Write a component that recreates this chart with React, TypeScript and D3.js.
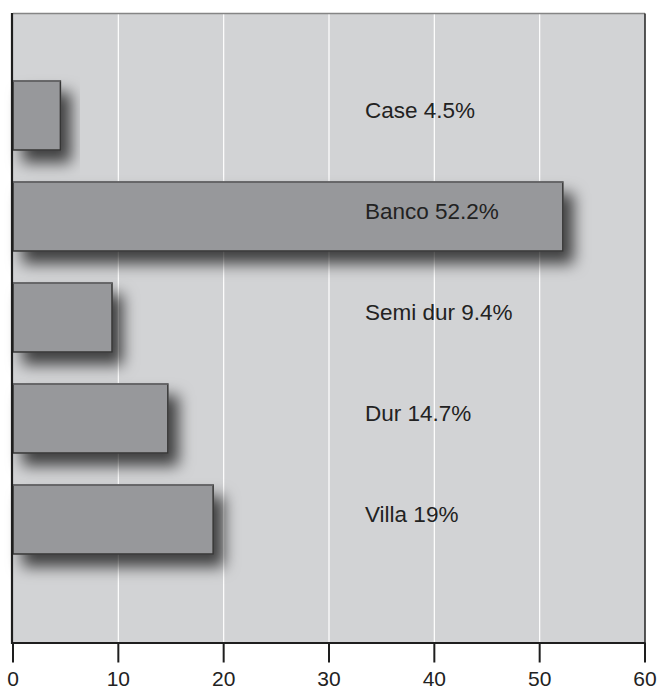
import React from "react";
import * as d3 from "d3";

const categories = ["Case", "Banco", "Semi dur", "Dur", "Villa"];
const values = [4.5, 52.2, 9.4, 14.7, 19];
const labels = ["Case 4.5%", "Banco 52.2%", "Semi dur 9.4%", "Dur 14.7%", "Villa 19%"];
const xTicks = [0, 10, 20, 30, 40, 50, 60];

const W = 658;
const H = 686;
const plot = { left: 13, right: 645, top: 13.5, bottom: 643 };

export default function App() {
  const x = d3.scaleLinear().domain([0, 60]).range([plot.left, plot.right]);
  const y = d3
    .scaleBand<string>()
    .domain(categories)
    .range([65, 570])
    .paddingInner(0.317)
    .paddingOuter(0.1585);
  const font = "'Liberation Sans', Arial, Helvetica, sans-serif";

  return (
    <div style={{ position: "absolute", left: 0, top: 0 }}>
      <svg width={W} height={H} style={{ display: "block" }}>
        <defs>
          <filter id="shadow" x="-20%" y="-40%" width="160%" height="200%">
            <feDropShadow dx="10" dy="12" stdDeviation="7.5" floodColor="#000" floodOpacity="0.7" />
          </filter>
        </defs>
        <rect x={0} y={0} width={W} height={H} fill="#fff" />
        <rect
          x={plot.left}
          y={plot.top}
          width={plot.right - plot.left}
          height={plot.bottom - plot.top}
          fill="#d2d3d5"
        />
        {xTicks.slice(1, -1).map((t) => (
          <line
            key={"g" + t}
            x1={x(t)}
            x2={x(t)}
            y1={plot.top}
            y2={plot.bottom}
            stroke="#ffffff"
            strokeWidth={1.2}
          />
        ))}
        {categories.map((c, i) => {
          const by = y(c) as number;
          const bh = y.bandwidth();
          return (
            <g key={c}>
              <rect
                x={x(0)}
                y={by}
                width={x(values[i]) - x(0)}
                height={bh}
                fill="#97989b"
                stroke="#363636"
                strokeWidth={1.5}
                filter="url(#shadow)"
              />
              <line
                x1={x(0)}
                x2={x(values[i])}
                y1={by}
                y2={by}
                stroke="#6e6e70"
                strokeWidth={1.5}
              />
            </g>
          );
        })}
        {categories.map((c, i) => {
          const cy = (y(c) as number) + y.bandwidth() / 2;
          return (
            <text
              key={"l" + c}
              x={365}
              y={cy + 2}
              fontFamily={font}
              fontSize={22.5}
              fill="#222"
            >
              {labels[i]}
            </text>
          );
        })}
        {/* frame */}
        <line x1={plot.left} x2={plot.right} y1={plot.top} y2={plot.top} stroke="#858585" strokeWidth={1.5} />
        <line x1={plot.right} x2={plot.right} y1={plot.top} y2={plot.bottom} stroke="#222" strokeWidth={1.5} />
        <line x1={12} x2={12} y1={plot.top - 0.5} y2={plot.bottom + 1} stroke="#1e1e1e" strokeWidth={2.2} />
        <line x1={11} x2={plot.right + 0.5} y1={plot.bottom} y2={plot.bottom} stroke="#1e1e1e" strokeWidth={2.2} />
        {xTicks.map((t) => (
          <g key={"t" + t}>
            <line x1={x(t)} x2={x(t)} y1={plot.bottom} y2={662.5} stroke="#1e1e1e" strokeWidth={2} />
            <text
              x={x(t)}
              y={686}
              textAnchor="middle"
              fontFamily={font}
              fontSize={21}
              fill="#222"
            >
              {t}
            </text>
          </g>
        ))}
      </svg>
    </div>
  );
}
